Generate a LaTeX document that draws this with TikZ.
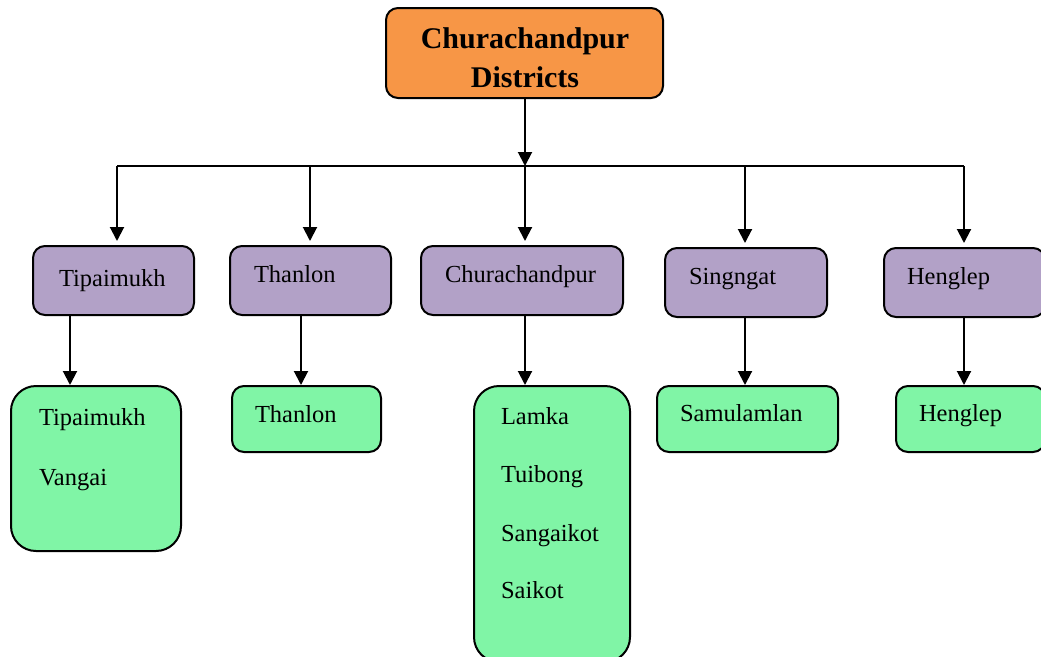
\documentclass[tikz,border=0pt]{standalone}
\usepackage{fontspec}
\setmainfont{Liberation Serif}
\usetikzlibrary{arrows.meta}
\definecolor{headorange}{HTML}{F79646}
\definecolor{blockpurple}{HTML}{B2A1C7}
\definecolor{villgreen}{HTML}{80F5A6}

\begin{document}
\begin{tikzpicture}[x=1pt, y=-1pt, line width=2pt, >={Triangle[length=14pt,width=14pt]},
  box/.style={draw, rounded corners=12pt, inner sep=0pt},
  head/.style={box, fill=headorange, minimum width=277pt, minimum height=90pt},
  block/.style={box, fill=blockpurple, minimum width=161pt, minimum height=69pt},
  vill/.style={box, fill=villgreen, minimum height=66pt},
  txt/.style={anchor=base west, inner sep=0pt, font=\fontsize{24.5}{29}\selectfont},
  bold/.style={anchor=base, inner sep=0pt, font=\bfseries\fontsize{30}{36}\selectfont}]
  \useasboundingbox (0,0) rectangle (1041,656);
  \clip (0,0) rectangle (1041,656);

  % district
  \node[head] (head) at (524.5,53) {};
  \node[bold] (hd1) at (525,48) {Churachandpur};
  \node[bold] (hd2) at (525,87) {Districts};

  % subdivisions
  \node[block] (p1) at (113.5,280.5) {};
  \node[block] (p2) at (310.5,280.5) {};
  \node[block, minimum width=202pt] (p3) at (522,280.5) {};
  \node[block, minimum width=162pt] (p4) at (746,282.5) {};
  \node[block] (p5) at (964.5,282.5) {};
  \node[txt] (tp1) at (58,286) {Tipaimukh};
  \node[txt] (tp2) at (253,282) {Thanlon};
  \node[txt] (tp3) at (444,282) {Churachandpur};
  \node[txt] (tp4) at (688,284) {Singngat};
  \node[txt] (tp5) at (906,284) {Henglep};

  % towns
  \node[vill, rounded corners=25pt, minimum width=170pt, minimum height=165pt] (g1) at (96,468.5) {};
  \node[vill, minimum width=149pt] (g2) at (306.5,419) {};
  \node[vill, rounded corners=25pt, minimum width=156pt, minimum height=276pt] (g3) at (552,524) {};
  \node[vill, minimum width=181pt] (g4) at (747.5,419) {};
  \node[vill, minimum width=149pt] (g5) at (970.5,419) {};
  \node[txt] (tg1a) at (38,425) {Tipaimukh};
  \node[txt] (tg1b) at (38,485) {Vangai};
  \node[txt] (tg2) at (254,422) {Thanlon};
  \node[txt] (tg3a) at (500,424) {Lamka};
  \node[txt] (tg3b) at (500,482) {Tuibong};
  \node[txt] (tg3c) at (500,541) {Sangaikot};
  \node[txt] (tg3d) at (500,598) {Saikot};
  \node[txt] (tg4) at (679,421) {Samulamlan};
  \node[txt] (tg5) at (918,421) {Henglep};

  % connectors
  \coordinate (j1) at (117,166);
  \coordinate (j2) at (310,166);
  \coordinate (j3) at (525,166);
  \coordinate (j4) at (745,166);
  \coordinate (j5) at (964,166);
  \draw[->] (head.south -| j3) -- (j3);
  \draw (j1) -- (j5);
  \foreach \j/\b in {j1/p1, j2/p2, j3/p3, j4/p4, j5/p5}
    \draw[->, shorten >=4pt] (\j) -- (\j |- \b.north);

  \coordinate (c1) at (70,0);
  \coordinate (c2) at (301,0);
  \coordinate (c3) at (525,0);
  \coordinate (c4) at (745,0);
  \coordinate (c5) at (964,0);
  \foreach \c/\b/\g in {c1/p1/g1, c2/p2/g2, c3/p3/g3, c4/p4/g4, c5/p5/g5}
    \draw[->] (\b.south -| \c) -- (\g.north -| \c);
\end{tikzpicture}
\end{document}
